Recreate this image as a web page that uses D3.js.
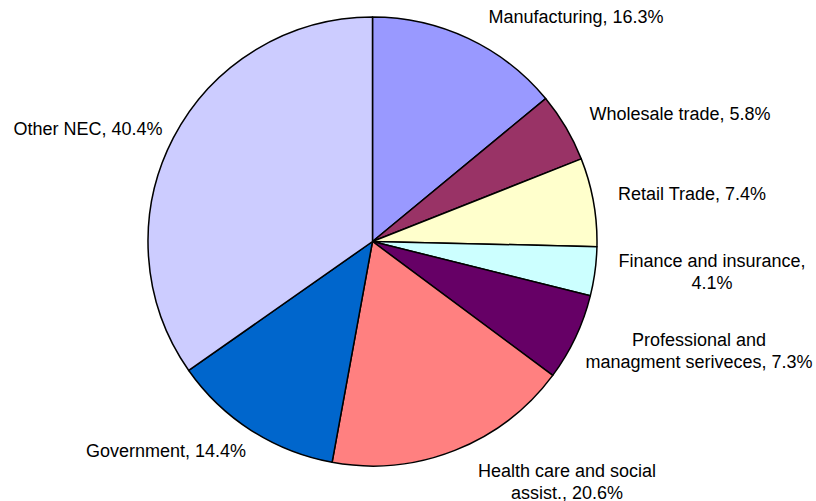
<!DOCTYPE html>
<html>
<head>
<meta charset="utf-8">
<script src="https://cdn.jsdelivr.net/npm/d3@7"></script>
<style>
  body { margin: 0; background: #fff; }
  text { font-family: Arial, "Liberation Sans", sans-serif; font-size: 18px; fill: #000; }
</style>
</head>
<body>
<div id="chart"></div>
<script>

// data, in the order the slices go round from 12 o'clock
var categories = ["Manufacturing", "Wholesale trade", "Retail Trade", "Finance and insurance",
                  "Professional and managment seriveces", "Health care and social assist.",
                  "Government", "Other NEC"];
var shares = [16.3, 5.8, 7.4, 4.1, 7.3, 20.6, 14.4, 40.4];
var colors = ["#9999ff", "#993366", "#ffffcc", "#ccffff", "#660066", "#ff8080", "#0066cc", "#ccccff"];

// how many words go on the first label line (0 = one line)
var firstLineWords = [0, 0, 0, 3, 2, 4, 0, 0];
// label centre x / first baseline y (chart was laid out by hand)
var labelPos = [[576, 23], [680, 120], [692, 200], [712, 267],
                [699, 346], [567, 477], [166, 457], [88, 135]];

var width = 816, height = 501;
var cx = 372.5, cy = 241.5, radius = 224.5;

var svg = d3.select("#chart").append("svg")
    .attr("width", width)
    .attr("height", height);

var pie = d3.pie().sort(null).value(function(d) { return d; });
var arc = d3.arc().innerRadius(0).outerRadius(radius);

var arcs = pie(shares);

var g = svg.append("g")
    .attr("transform", "translate(" + cx + "," + cy + ")");

g.selectAll("path")
    .data(arcs)
    .enter().append("path")
    .attr("d", arc)
    .attr("fill", function(d, i) { return colors[i]; })
    .attr("stroke", "#000")
    .attr("stroke-width", 1.5)
    .attr("stroke-linejoin", "round");

// labels
var labels = svg.selectAll("text.lbl")
    .data(categories)
    .enter().append("text")
    .attr("class", "lbl")
    .attr("text-anchor", "middle")
    .attr("transform", function(d, i) { return "translate(" + labelPos[i][0] + "," + labelPos[i][1] + ")"; });

labels.each(function(d, i) {
    var full = d + ", " + shares[i].toFixed(1) + "%";
    var lines;
    if (firstLineWords[i] > 0) {
        var words = full.split(" ");
        lines = [words.slice(0, firstLineWords[i]).join(" "), words.slice(firstLineWords[i]).join(" ")];
    } else {
        lines = [full];
    }
    d3.select(this).selectAll("tspan")
        .data(lines)
        .enter().append("tspan")
        .attr("x", 0)
        .attr("dy", function(l, j) { return j == 0 ? 0 : 21.5; })
        .text(function(l) { return l; });
});

</script>
</body>
</html>
